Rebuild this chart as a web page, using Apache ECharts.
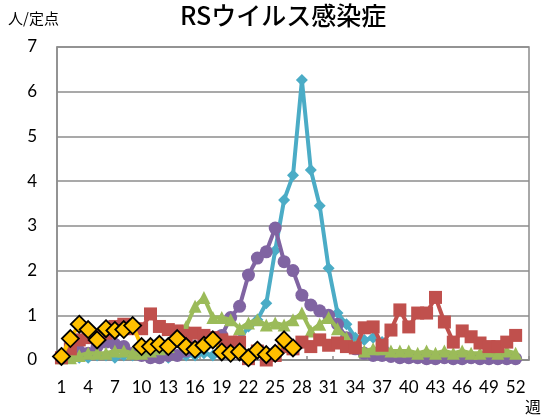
<!DOCTYPE html>
<html><head><meta charset="utf-8">
<script src="https://cdn.jsdelivr.net/npm/echarts@6/dist/echarts.min.js"></script>
<style>html,body{margin:0;padding:0;background:#fff}#c{width:543px;height:419px}</style>
</head><body><div id="c"></div>
<script>
const weeks = Array.from({length: 53}, (_, i) => String(i + 1));
const titleText = 'RSウイルス感染症';
const yUnit = '人/定点';
const xUnit = '週';
const cyan = [0.05,0.05,0.05,0.05,0.1,0.1,0.05,0.1,0.1,0.1,
  0.05,0.1,0.05,0.1,0.1,0.1,0.15,0.1,0.15,0.25,
  0.45,0.75,0.9,1.27,2.45,3.58,4.13,6.26,4.25,3.45,
  2.05,1.05,0.8,0.5,0.45,0.5,0.4,0.15,0.1,0.1,
  0.1,0.15,0.1,0.1,0.1,0.05,0.1,0.05,0.05,0.05,0.05,0.05];
const purple = [0.1,0.15,0.2,0.15,0.3,0.4,0.35,0.3,0.15,0.1,
  0.05,0.05,0.1,0.1,0.2,0.3,0.35,0.45,0.55,0.95,
  1.2,1.9,2.28,2.42,2.95,2.2,2.0,1.45,1.23,1.1,
  1.0,0.8,0.5,0.25,0.15,0.1,0.1,0.08,0.05,0.05,
  0.05,0.03,0.03,0.05,0.03,0.03,0.05,0.03,0.03,0.03,0.03,0.03];
const green = [0.05,0.05,0.1,0.15,0.15,0.15,0.2,0.2,0.15,0.15,
  0.2,0.25,0.3,0.55,0.75,1.2,1.4,0.95,0.95,0.9,
  0.7,0.83,0.9,0.78,0.83,0.78,0.9,1.05,0.65,0.8,
  0.95,0.7,0.5,0.3,0.2,0.25,0.25,0.2,0.2,0.2,
  0.15,0.2,0.15,0.2,0.15,0.2,0.15,0.15,0.2,0.15,0.2,0.15];
const red = [0.05,0.25,0.45,0.5,0.55,0.6,0.75,0.8,0.7,0.7,
  1.03,0.75,0.68,0.65,0.55,0.6,0.55,0.5,0.45,0.4,
  0.4,0.03,0.2,0.0,0.1,0.3,0.25,0.4,0.3,0.45,
  0.33,0.38,0.3,0.27,0.72,0.74,0.33,0.67,1.12,0.74,
  1.05,1.05,1.4,0.85,0.4,0.65,0.52,0.38,0.3,0.3,0.4,0.55];
const yellow = [0.08,0.48,0.8,0.68,0.45,0.7,0.66,0.68,0.77,0.3,
  0.3,0.35,0.3,0.48,0.3,0.24,0.33,0.45,0.18,0.15,
  0.18,0.05,0.22,0.12,0.15,0.45,0.27];

const font = 'Lato, "Noto Sans", sans-serif';
const chart = echarts.init(document.getElementById('c'), null, {renderer: 'canvas'});
function ser(name, data, color, symbol, size, z, extra) {
  return Object.assign({
    name, type: 'line', data, symbol, symbolSize: size, z,
    showAllSymbol: true,
    lineStyle: {color, width: 4},
    itemStyle: {color, borderWidth: 0},
    emphasis: {disabled: true}, animation: false
  }, extra || {});
}
chart.setOption({
  animation: false,
  graphic: [
    {type: 'text', left: 8, top: 11, style: {text: yUnit, font: '15px "Noto Sans CJK JP"', fill: '#000'}},
    {type: 'text', left: 525, top: 399, style: {text: xUnit, font: '16px "Noto Sans CJK JP"', fill: '#000'}},
    {type: 'text', left: 180, top: 3, style: {text: titleText, font: '500 25px "Noto Sans CJK JP"', fill: '#000'}}
  ],
  grid: {left: 57, right: 14, top: 47, bottom: 59, show: true, borderColor: '#8c8c8c', borderWidth: 1.5, containLabel: false},
  xAxis: {
    type: 'category', data: weeks, boundaryGap: true,
    axisLine: {lineStyle: {color: '#8c8c8c', width: 1.5}},
    axisTick: {show: true, inside: true, length: 4, interval: (i) => i % 3 === 1, lineStyle: {color: '#8c8c8c', width: 1.5}},
    axisLabel: {interval: 2, color: '#000', fontSize: 17, fontFamily: font, margin: 19},
    splitLine: {show: false}
  },
  yAxis: {
    type: 'value', min: 0, max: 7, interval: 1,
    axisLine: {show: true, lineStyle: {color: '#8c8c8c', width: 1.5}},
    axisTick: {show: false},
    axisLabel: {color: '#000', fontSize: 17, fontFamily: font, margin: 20},
    splitLine: {show: true, lineStyle: {color: '#8c8c8c', width: 1.5}}
  },
  series: [
    ser('cyan', cyan, '#4BACC6', 'diamond', 12, 2),
    ser('purple', purple, '#8064A2', 'circle', 13, 3),
    ser('green', green, '#9BBB59', 'triangle', 13, 4),
    ser('red', red, '#C0504D', 'rect', 13, 5),
    ser('yellow', yellow, '#FFC000', 'diamond', 17, 6, {itemStyle: {color: '#FFC000', borderColor: '#000', borderWidth: 1.8}})
  ]
});
</script></body></html>
